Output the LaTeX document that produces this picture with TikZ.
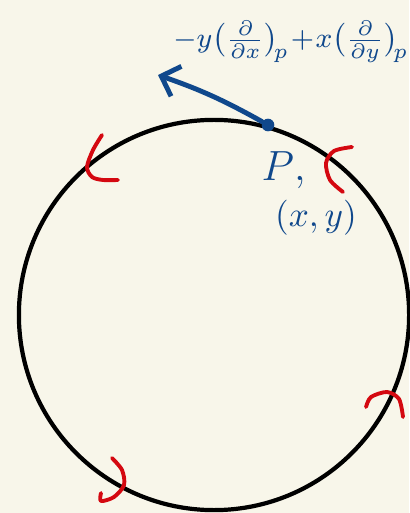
\documentclass[tikz,border=0pt]{standalone}
\usepackage{amsmath}
\usepackage{tikz}
\usetikzlibrary{arrows.meta, positioning}
\definecolor{inkblue}{RGB}{16, 72, 140}
\definecolor{inkred}{RGB}{212, 8, 16}
\definecolor{paper}{RGB}{248, 246, 234}

\begin{document}
\begin{tikzpicture}[x=0.01cm, y=-0.01cm,
  circ/.style={draw=black, line width=1.2pt},
  chart/.style={draw=inkred, line width=1.1pt, line cap=round, line join=round},
  vec/.style={draw=inkblue, line width=1.4pt, line cap=round,
              -{Straight Barb[length=4.5pt, width=9pt, line width=1.4pt]}},
  dot/.style={circle, fill=inkblue, inner sep=0pt, minimum size=3.6pt},
  lbl/.style={text=inkblue, inner sep=0pt}
]

% paper
\fill[paper] (0,0) rectangle (409,513);
\useasboundingbox (0,0) rectangle (409,513);

% the circle
\draw[circ] (214,315) circle (1.95cm);

% point and tangent vector
\node[dot] (p) at (268,125) {};
\coordinate (tip) at (158,75);
\draw[vec] (p) to[bend right=5] (tip);

% labels
\node[lbl, font=\fontsize{8}{10}\selectfont] (field) at (291,42)
  {$-y\bigl(\frac{\partial}{\partial x}\bigr)_{\!p}\!+\!x\bigl(\frac{\partial}{\partial y}\bigr)_{\!p}$};
\node[lbl, font=\fontsize{12}{14}\selectfont, anchor=north west] (plbl) at (261,151) {$P$,};
\node[lbl, font=\fontsize{10}{12}\selectfont] (coords) at (316,218) {$(x,y)$};

% charts
\draw[chart] plot[smooth] coordinates {(102,135) (93,150) (87,167) (92,177) (103,180) (118,180)};
\draw[chart] plot[smooth] coordinates {(352,147) (334,151) (326,163) (330,180) (343,192)};
\draw[chart] plot[smooth] coordinates {(366,407) (371,397) (387,392) (399,399) (403,417)};
\draw[chart] plot[smooth] coordinates {(112,458) (122,470) (124,485) (114,497) (101,501) (101,493)};

\end{tikzpicture}
\end{document}
